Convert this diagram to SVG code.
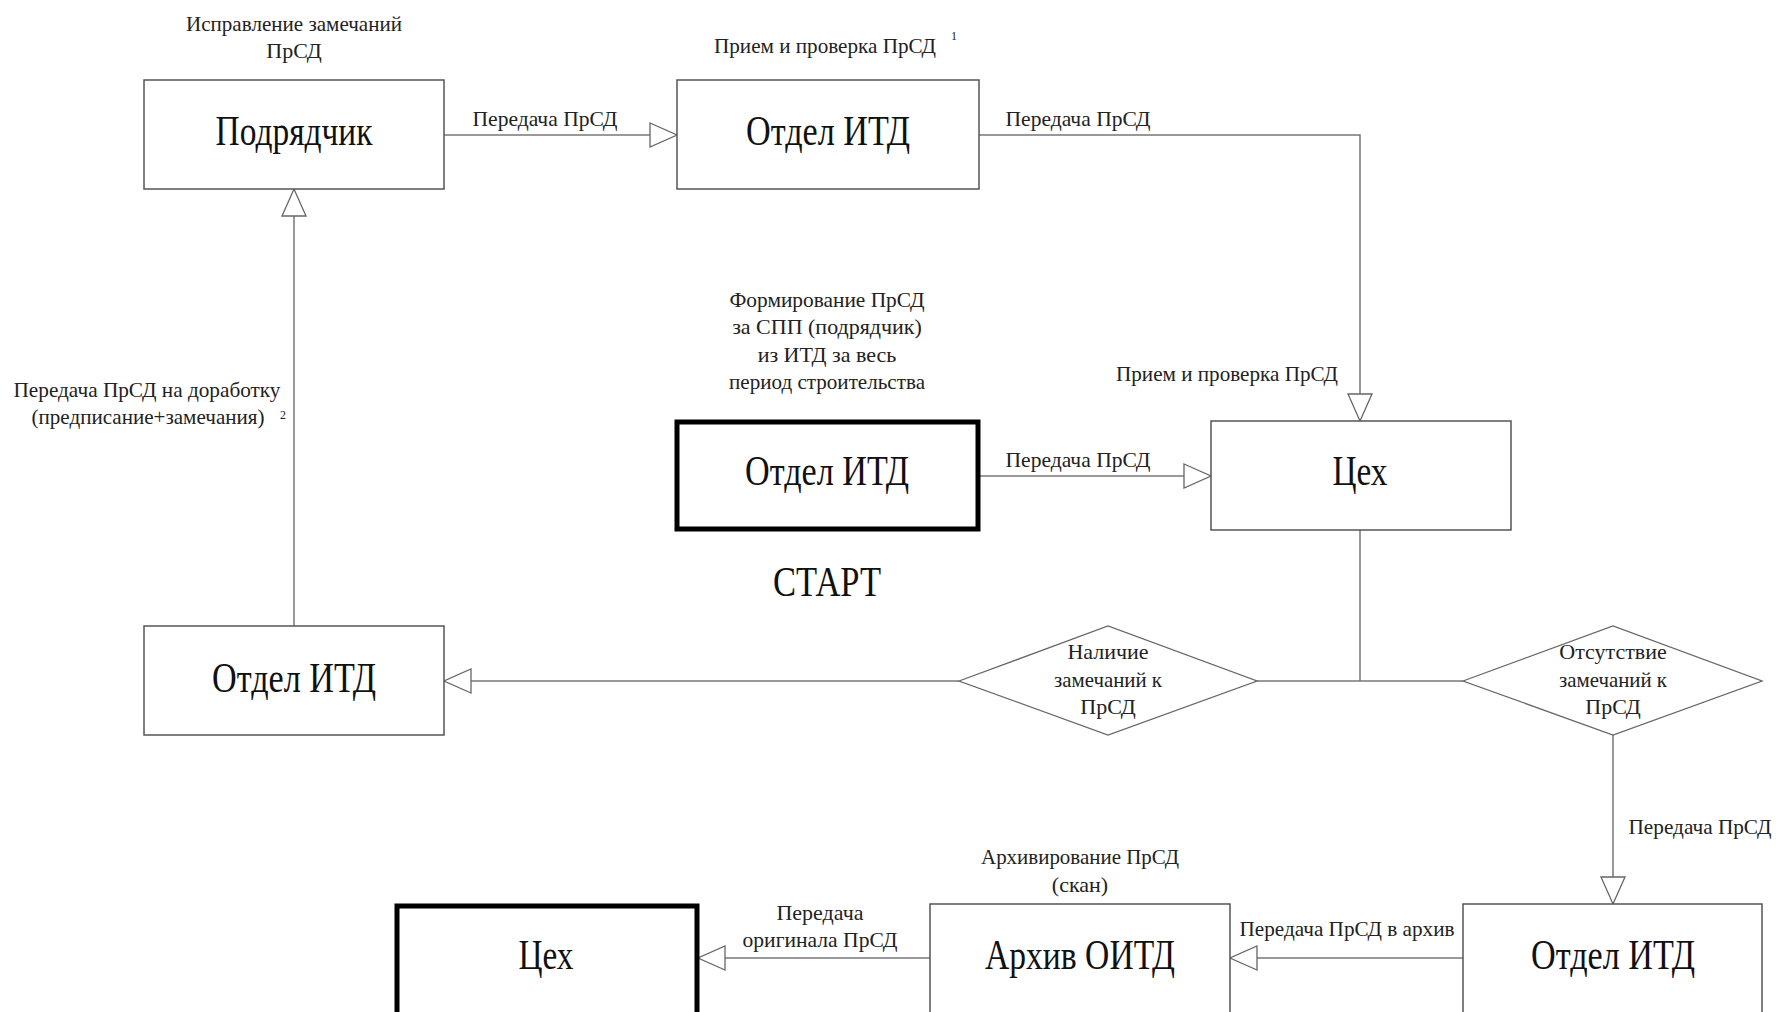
<svg xmlns="http://www.w3.org/2000/svg" width="1776" height="1012" viewBox="0 0 1776 1012">
<style>
.box{fill:#fff;stroke:#555;stroke-width:1.5}
.thick{fill:#fff;stroke:#000;stroke-width:5}
.dia{fill:#fff;stroke:#666;stroke-width:1.3}
.con{fill:none;stroke:#777;stroke-width:1.5}
.big{font-family:"Liberation Serif",serif;font-size:42px;fill:#111;text-anchor:middle}
.lbl{font-family:"Liberation Serif",serif;font-size:22px;fill:#222;text-anchor:middle}
.sup{font-family:"Liberation Serif",serif;font-size:12px;fill:#222}
</style>
<defs>
<marker id="arr" markerUnits="userSpaceOnUse" markerWidth="30" markerHeight="28" refX="28" refY="13" orient="auto">
<path d="M1,1 L28,13 L1,25 Z" fill="#fff" stroke="#666" stroke-width="1.3"/>
</marker>
</defs>
<rect width="1776" height="1012" fill="#fff"/>
<g id="connectors">
<line class="con" x1="444" y1="135" x2="677" y2="135" marker-end="url(#arr)"/>
<polyline class="con" points="979,135 1360,135 1360,421" marker-end="url(#arr)"/>
<line class="con" x1="979" y1="476" x2="1211" y2="476" marker-end="url(#arr)"/>
<line class="con" x1="1360" y1="530" x2="1360" y2="681"/>
<line class="con" x1="1257" y1="681" x2="1463" y2="681"/>
<line class="con" x1="959" y1="681" x2="444" y2="681" marker-end="url(#arr)"/>
<line class="con" x1="294" y1="626" x2="294" y2="189" marker-end="url(#arr)"/>
<line class="con" x1="1613" y1="735" x2="1613" y2="904" marker-end="url(#arr)"/>
<line class="con" x1="1463" y1="958" x2="1230" y2="958" marker-end="url(#arr)"/>
<line class="con" x1="930" y1="958" x2="698" y2="958" marker-end="url(#arr)"/>
<text class="lbl" x="545" y="126" textLength="145" lengthAdjust="spacingAndGlyphs">Передача ПрСД</text>
<text class="lbl" x="1078" y="126" textLength="145" lengthAdjust="spacingAndGlyphs">Передача ПрСД</text>
<text class="lbl" x="1227" y="381" textLength="222" lengthAdjust="spacingAndGlyphs">Прием и проверка ПрСД</text>
<text class="lbl" x="1078" y="467" textLength="145" lengthAdjust="spacingAndGlyphs">Передача ПрСД</text>
<text class="lbl" x="147" y="397" textLength="267" lengthAdjust="spacingAndGlyphs">Передача ПрСД на доработку</text>
<text class="lbl" x="148" y="424" textLength="233" lengthAdjust="spacingAndGlyphs">(предписание+замечания)</text>
<text class="sup" x="280" y="419">2</text>
<text class="lbl" x="1700" y="834" textLength="143" lengthAdjust="spacingAndGlyphs">Передача ПрСД</text>
<text class="lbl" x="1347" y="936" textLength="215" lengthAdjust="spacingAndGlyphs">Передача ПрСД в архив</text>
<text class="lbl" x="820" y="920">Передача</text>
<text class="lbl" x="820" y="947" textLength="155" lengthAdjust="spacingAndGlyphs">оригинала ПрСД</text>
</g>
<g id="podryadchik">
<rect class="box" x="144" y="80" width="300" height="109"/>
<text class="big" x="294" y="145" textLength="157" lengthAdjust="spacingAndGlyphs">Подрядчик</text>
<text class="lbl" x="294" y="31" textLength="216" lengthAdjust="spacingAndGlyphs">Исправление замечаний</text>
<text class="lbl" x="294" y="58">ПрСД</text>
</g>
<g id="otdel-top">
<rect class="box" x="677" y="80" width="302" height="109"/>
<text class="big" x="828" y="145" textLength="164" lengthAdjust="spacingAndGlyphs">Отдел ИТД</text>
<text class="lbl" x="825" y="53" textLength="222" lengthAdjust="spacingAndGlyphs">Прием и проверка ПрСД</text>
<text class="sup" x="951" y="40">1</text>
</g>
<g id="otdel-start">
<rect class="thick" x="677" y="422" width="301" height="107"/>
<text class="big" x="827" y="485" textLength="164" lengthAdjust="spacingAndGlyphs">Отдел ИТД</text>
<text class="lbl" x="827" y="307" textLength="195" lengthAdjust="spacingAndGlyphs">Формирование ПрСД</text>
<text class="lbl" x="827" y="334">за СПП (подрядчик)</text>
<text class="lbl" x="827" y="362">из ИТД за весь</text>
<text class="lbl" x="827" y="389" textLength="196" lengthAdjust="spacingAndGlyphs">период строительства</text>
<text class="big" x="827" y="596" textLength="108" lengthAdjust="spacingAndGlyphs">СТАРТ</text>
</g>
<g id="tsekh-mid">
<rect class="box" x="1211" y="421" width="300" height="109"/>
<text class="big" x="1360" y="485" textLength="55" lengthAdjust="spacingAndGlyphs">Цех</text>
</g>
<g id="otdel-left">
<rect class="box" x="144" y="626" width="300" height="109"/>
<text class="big" x="294" y="692" textLength="164" lengthAdjust="spacingAndGlyphs">Отдел ИТД</text>
</g>
<g id="dia-yes">
<polygon class="dia" points="959,681 1108,626 1257,681 1108,735"/>
<text class="lbl" x="1108" y="659">Наличие</text>
<text class="lbl" x="1108" y="687" textLength="108" lengthAdjust="spacingAndGlyphs">замечаний к</text>
<text class="lbl" x="1108" y="714">ПрСД</text>
</g>
<g id="dia-no">
<polygon class="dia" points="1463,681 1613,626 1762,681 1613,735"/>
<text class="lbl" x="1613" y="659">Отсутствие</text>
<text class="lbl" x="1613" y="687" textLength="108" lengthAdjust="spacingAndGlyphs">замечаний к</text>
<text class="lbl" x="1613" y="714">ПрСД</text>
</g>
<g id="otdel-br">
<rect class="box" x="1463" y="904" width="299" height="112"/>
<text class="big" x="1613" y="969" textLength="164" lengthAdjust="spacingAndGlyphs">Отдел ИТД</text>
</g>
<g id="arkhiv">
<rect class="box" x="930" y="904" width="300" height="112"/>
<text class="big" x="1080" y="969" textLength="190" lengthAdjust="spacingAndGlyphs">Архив ОИТД</text>
<text class="lbl" x="1080" y="864" textLength="198" lengthAdjust="spacingAndGlyphs">Архивирование ПрСД</text>
<text class="lbl" x="1080" y="892">(скан)</text>
</g>
<g id="tsekh-bottom">
<rect class="thick" x="397" y="906" width="300" height="112"/>
<text class="big" x="546" y="969" textLength="55" lengthAdjust="spacingAndGlyphs">Цех</text>
</g>
</svg>
